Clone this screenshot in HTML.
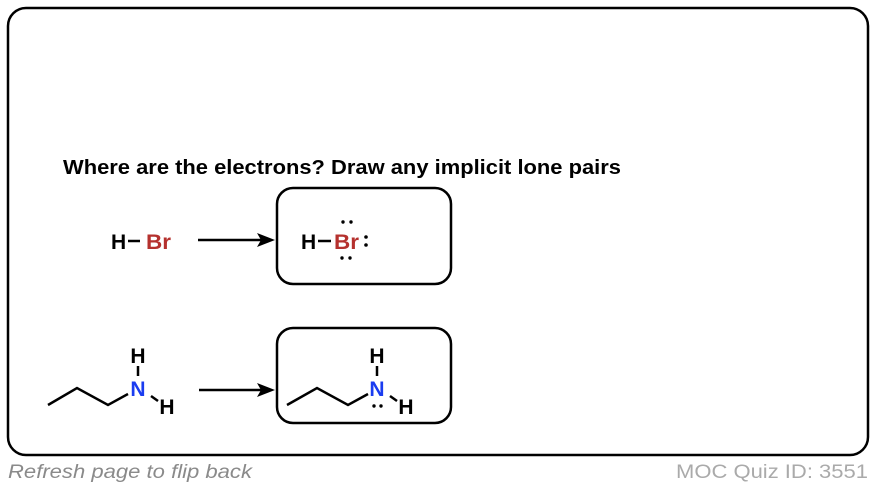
<!DOCTYPE html>
<html><head><style>
body{margin:0;width:876px;height:488px;background:#fff;overflow:hidden;font-family:"Liberation Sans",Arial,sans-serif}
</style></head><body>
<svg width="876" height="488" viewBox="0 0 876 488" xmlns="http://www.w3.org/2000/svg" font-family="Liberation Sans, Arial, sans-serif">
<rect x="8" y="8" width="860" height="447" rx="18" fill="none" stroke="#000" stroke-width="2.5"/>
<text x="63" y="174" font-size="20" font-weight="bold" textLength="558" lengthAdjust="spacingAndGlyphs">Where are the electrons? Draw any implicit lone pairs</text>
<!-- HBr -->
<g font-weight="bold" font-size="21">
<text x="111" y="249">H</text>
<line x1="128" y1="241" x2="140" y2="241" stroke="#000" stroke-width="2.5"/>
<text x="146" y="249" fill="#b5312e" textLength="25" lengthAdjust="spacingAndGlyphs">Br</text>
</g>
<line x1="198" y1="240" x2="262" y2="240" stroke="#000" stroke-width="2.5"/>
<polygon points="275,240 257,233 261,240 257,247" fill="#000"/>
<rect x="277" y="188" width="174" height="96" rx="16" fill="none" stroke="#000" stroke-width="2.5"/>
<g font-weight="bold" font-size="21">
<text x="301" y="249">H</text>
<line x1="318" y1="241" x2="331" y2="241" stroke="#000" stroke-width="2.5"/>
<text x="334" y="249" fill="#b5312e" textLength="25" lengthAdjust="spacingAndGlyphs">Br</text>
</g>
<g fill="#000">
<circle cx="343" cy="222" r="1.7"/><circle cx="351" cy="222" r="1.7"/>
<circle cx="342" cy="258" r="1.7"/><circle cx="350" cy="258" r="1.7"/>
<circle cx="366" cy="237" r="1.8"/><circle cx="366" cy="245" r="1.8"/>
</g>
<!-- amine left -->
<polyline points="48,405 77,388 108,405 128,394" fill="none" stroke="#000" stroke-width="2.5"/>
<g font-weight="bold" font-size="21" text-anchor="middle">
<text x="138" y="363">H</text>
<text x="138" y="396" fill="#1a3cf0">N</text>
<text x="167" y="414">H</text>
</g>
<line x1="138" y1="366" x2="138" y2="376" stroke="#000" stroke-width="2.5"/>
<line x1="151" y1="396" x2="158" y2="401" stroke="#000" stroke-width="2.5"/>
<line x1="199" y1="390" x2="262" y2="390" stroke="#000" stroke-width="2.5"/>
<polygon points="275,390 257,383 261,390 257,397" fill="#000"/>
<rect x="277" y="328" width="174" height="95" rx="16" fill="none" stroke="#000" stroke-width="2.5"/>
<polyline points="287,405 317,388 348,405 368,394" fill="none" stroke="#000" stroke-width="2.5"/>
<g font-weight="bold" font-size="21" text-anchor="middle">
<text x="377" y="363">H</text>
<text x="377" y="396" fill="#1a3cf0">N</text>
<text x="406" y="414">H</text>
</g>
<line x1="377" y1="366" x2="377" y2="376" stroke="#000" stroke-width="2.5"/>
<line x1="390" y1="396" x2="397" y2="401" stroke="#000" stroke-width="2.5"/>
<circle cx="374" cy="406" r="1.7"/><circle cx="381" cy="406" r="1.7"/>
<text x="8" y="478" font-size="19" font-style="italic" fill="#8a8a8a" textLength="244" lengthAdjust="spacingAndGlyphs">Refresh page to flip back</text>
<text x="676" y="478" font-size="19" fill="#aaa" textLength="192" lengthAdjust="spacingAndGlyphs">MOC Quiz ID: 3551</text>
</svg>
</body></html>
